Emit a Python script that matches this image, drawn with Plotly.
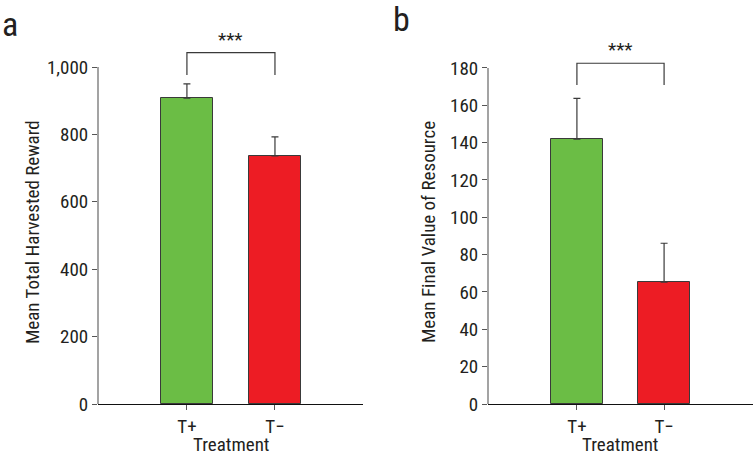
import plotly.graph_objects as go

categories = ["T+", "T\u2212"]
reward_mean = [908, 736]
reward_err = [42, 57]
resource_mean = [141.8, 65.3]
resource_err = [21.9, 20.8]
colors = ["#6BBD45", "#ED1C24"]
reward_ticks = [0, 200, 400, 600, 800, 1000]
resource_ticks = [0, 20, 40, 60, 80, 100, 120, 140, 160, 180]
bracket_a = [976, 1043]   # leg bottom, top
bracket_b = [170.9, 182.5]

W, H = 753, 457
FONT = "Liberation Sans Narrow, Arial Narrow, Roboto Condensed, sans-serif"
TXT = "#231f20"
FS = 19

def px(v):
    return v / W

def py(v):
    return 1 - v / H

fig = go.Figure()

for i, c in enumerate(categories):
    fig.add_trace(go.Bar(
        x=[c], y=[reward_mean[i]], marker=dict(color=colors[i], line=dict(color="#3a3a3a", width=1)),
        width=0.6, error_y=dict(type="data", symmetric=False, array=[reward_err[i]], arrayminus=[0],
                                color="#3a3a3a", thickness=1.2, width=3.5),
        xaxis="x", yaxis="y", showlegend=False))
    fig.add_trace(go.Bar(
        x=[c], y=[resource_mean[i]], marker=dict(color=colors[i], line=dict(color="#3a3a3a", width=1)),
        width=0.6, error_y=dict(type="data", symmetric=False, array=[resource_err[i]], arrayminus=[0],
                                color="#3a3a3a", thickness=1.2, width=3.5),
        xaxis="x2", yaxis="y2", showlegend=False))

# significance brackets
for xa, ya, br in [("x", "y", bracket_a), ("x2", "y2", bracket_b)]:
    fig.add_trace(go.Scatter(
        x=[categories[0], categories[0], categories[1], categories[1]],
        y=[br[0], br[1], br[1], br[0]], mode="lines",
        line=dict(color="#3a3a3a", width=1.2), xaxis=xa, yaxis=ya, showlegend=False,
        hoverinfo="skip"))

ydom = [py(404), py(33)]
axis_common = dict(ticks="outside", ticklen=5, tickcolor="#555", automargin=False,
                   tickfont=dict(family=FONT, size=FS, color=TXT), showgrid=False, zeroline=False)

fig.update_layout(
    width=W, height=H, margin=dict(l=0, r=0, t=0, b=0, autoexpand=False),
    plot_bgcolor="white", paper_bgcolor="white", bargap=0,
    xaxis=dict(domain=[px(98), px(363)], range=[-1.01, 2.0], showline=True, linecolor="#111",
               linewidth=1.2, anchor="y", **axis_common),
    yaxis=dict(domain=ydom, range=[0, 1101], tickvals=reward_ticks, tickformat=",",
               showline=False, anchor="x", **axis_common),
    xaxis2=dict(domain=[px(488), 1.0], range=[-1.02, 2.02], showline=True, linecolor="#111",
                linewidth=1.2, anchor="y2", **axis_common),
    yaxis2=dict(domain=ydom, range=[0, 198.7], tickvals=resource_ticks,
                showline=False, anchor="x2", **axis_common),
)

# y-axis lines only up to last tick
fig.add_shape(type="line", xref="x domain", yref="y", x0=0, x1=0, y0=0, y1=reward_ticks[-1],
              line=dict(color="#666", width=1.2))
fig.add_shape(type="line", xref="x2 domain", yref="y2", x0=0, x1=0, y0=0, y1=resource_ticks[-1],
              line=dict(color="#666", width=1.2))

def note(x, y, text, xref="paper", yref="paper", size=FS, xanchor="center", yanchor="middle", **kw):
    fig.add_annotation(x=x, y=y, xref=xref, yref=yref, text=text, showarrow=False,
                       xanchor=xanchor, yanchor=yanchor,
                       font=dict(family=FONT, size=size, color=TXT), **kw)

# stars
note(0.5, bracket_a[1], "***", xref="x", yref="y", yanchor="bottom", yshift=0)
note(0.5, bracket_b[1], "***", xref="x2", yref="y2", yanchor="bottom", yshift=0)

# axis titles
note(px(32), py(232), "Mean Total Harvested Reward", textangle=-90)
note(px(428), py(232), "Mean Final Value of Resource", textangle=-90)
note(px(231), py(444), "Treatment")
note(px(620), py(444), "Treatment")

# panel labels
note(px(0), py(2), "a", size=34, xanchor="left", yanchor="top")
note(px(391), py(-3), "b", size=34, xanchor="left", yanchor="top")

fig.write_html("out.html", config={"displayModeBar": False},
               post_script="document.body.style.margin='0';")
